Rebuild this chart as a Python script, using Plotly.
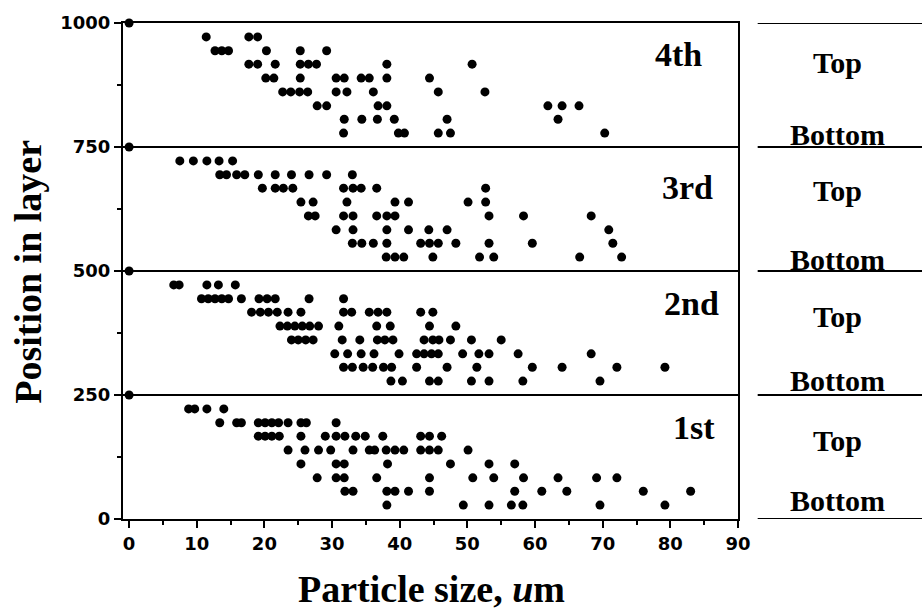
import plotly.graph_objects as go

# Particle sizes (um) observed at each sub-position of every layer.
# Each layer spans 250 units of "position"; rows are listed top to bottom.
layer4_rows = [972, 944, 917, 889, 861, 833, 806, 778]
layer4_sizes = [
    [11.4, 17.7, 19.0],
    [12.7, 13.7, 14.7, 20.3, 25.3, 29.2],
    [17.7, 19.0, 21.6, 25.3, 26.5, 27.7, 38.1, 50.7],
    [20.2, 21.4, 25.3, 30.6, 31.8, 34.3, 35.5, 38.1, 44.4],
    [22.7, 23.9, 25.2, 26.4, 30.6, 32.2, 36.1, 45.7, 52.6],
    [27.8, 29.2, 36.8, 38.1, 61.9, 64.0, 66.5],
    [31.8, 34.4, 36.7, 39.2, 47.0, 63.4],
    [31.7, 39.8, 40.7, 45.7, 47.5, 70.3],
]

layer3_rows = [722, 694, 667, 639, 611, 583, 556, 528]
layer3_sizes = [
    [7.5, 9.5, 11.5, 13.3, 15.3],
    [13.4, 14.4, 15.9, 17.1, 19.1, 21.6, 24.0, 26.6, 29.2, 33.0],
    [19.7, 21.6, 22.8, 24.2, 31.7, 33.1, 34.3, 36.6, 52.7],
    [25.4, 27.2, 32.2, 39.3, 41.3, 50.1, 52.7],
    [26.5, 27.5, 31.7, 33.1, 36.6, 38.1, 39.3, 53.2, 58.3, 68.3],
    [30.6, 33.1, 38.1, 41.3, 44.3, 47.0, 70.9],
    [33.0, 34.4, 36.1, 38.1, 43.1, 44.4, 45.7, 48.3, 53.2, 59.6, 71.5],
    [38.0, 39.3, 40.6, 44.9, 51.8, 53.9, 66.6, 72.8],
]

layer2_rows = [472, 444, 417, 389, 361, 333, 306, 278]
layer2_sizes = [
    [6.6, 7.4, 11.5, 13.2, 15.7],
    [10.7, 11.7, 12.7, 13.7, 14.7, 16.6, 19.2, 20.4, 21.6, 26.6, 31.7],
    [18.1, 19.4, 20.6, 21.9, 23.5, 25.4, 31.7, 32.9, 35.5, 36.8, 38.1, 43.1, 44.9],
    [22.3, 23.4, 24.5, 25.6, 26.7, 28.0, 31.0, 36.6, 38.6, 44.4, 48.3],
    [24.0, 25.0, 26.1, 27.2, 31.5, 34.1, 36.7, 37.8, 39.0, 43.6, 44.9, 45.8, 47.5, 50.6, 55.0],
    [30.4, 32.3, 34.3, 36.2, 39.9, 42.5, 43.6, 44.7, 45.7, 49.3, 51.7, 53.2, 57.5, 68.3],
    [31.7, 33.0, 34.6, 36.0, 37.6, 38.8, 42.5, 47.0, 51.4, 59.6, 64.0, 72.1, 79.2],
    [38.7, 40.4, 44.4, 45.7, 50.6, 53.2, 58.2, 69.6],
]

layer1_rows = [222, 194, 167, 139, 111, 83, 56, 28]
layer1_sizes = [
    [8.8, 9.7, 11.5, 14.0],
    [13.4, 15.9, 16.6, 19.1, 20.1, 21.1, 22.1, 23.5, 25.4, 26.2, 30.6],
    [19.1, 20.1, 21.1, 22.2, 25.4, 29.0, 30.6, 31.9, 33.5, 34.9, 37.5, 43.1, 44.4, 46.2],
    [23.5, 26.0, 28.0, 29.8, 33.1, 35.5, 36.3, 38.0, 39.3, 40.6, 43.1, 44.4, 45.7, 50.1],
    [25.4, 30.6, 31.8, 38.2, 47.5, 53.2, 57.0],
    [27.8, 30.6, 31.8, 36.6, 44.4, 50.8, 53.9, 58.3, 63.4, 69.1, 72.1],
    [31.9, 33.1, 38.1, 39.3, 41.3, 44.4, 57.0, 61.0, 64.7, 76.0, 83.0],
    [38.1, 49.4, 53.2, 56.5, 58.2, 69.6, 79.2],
]

# Markers sitting on the axis at each layer boundary
boundary_x = [0, 0, 0, 0]
boundary_y = [1000, 750, 500, 250]

layer_names = ["4th", "3rd", "2nd", "1st"]
layer_label_x = [81.2, 82.5, 83.2, 83.5]
layer_label_y = [936, 668, 435, 185]

layer_bounds = [0, 250, 500, 750, 1000]
top_label_y = [920, 663, 409, 158]
bottom_label_y = [776, 523, 279, 38]

x_ticks = list(range(0, 91, 10))
y_ticks = [0, 250, 500, 750, 1000]

xs, ys = [], []
for rows, sizes in [(layer4_rows, layer4_sizes), (layer3_rows, layer3_sizes),
                    (layer2_rows, layer2_sizes), (layer1_rows, layer1_sizes)]:
    for pos, vals in zip(rows, sizes):
        for v in vals:
            xs.append(v)
            ys.append(pos)
xs += boundary_x
ys += boundary_y

fig = go.Figure()
fig.add_trace(go.Scatter(
    x=xs, y=ys, mode="markers",
    marker=dict(color="black", size=9, line=dict(width=0)),
    cliponaxis=False, showlegend=False, hoverinfo="skip",
))

serif = "Liberation Serif, Times New Roman, serif"
sans = "DejaVu Sans, Arial, sans-serif"

shapes = []
# separators between layers inside the plot
for b in layer_bounds[1:-1]:
    shapes.append(dict(type="line", xref="paper", yref="y", x0=0, x1=1, y0=b, y1=b,
                       line=dict(color="black", width=2)))
# side scale of top / bottom markers
for b in layer_bounds:
    shapes.append(dict(type="line", xref="paper", yref="y", x0=1.032, x1=1.30, y0=b, y1=b,
                       line=dict(color="black", width=2)))

annotations = []
for name, lx, ly in zip(layer_names, layer_label_x, layer_label_y):
    annotations.append(dict(x=lx, y=ly, xref="x", yref="y", text=f"<b>{name}</b>",
                            xanchor="center", yanchor="middle", showarrow=False,
                            font=dict(family=serif, size=34, color="black")))
for ty in top_label_y:
    annotations.append(dict(x=1.161, y=ty, xref="paper", yref="y", text="<b>Top</b>",
                            xanchor="center", yanchor="middle", showarrow=False,
                            font=dict(family=serif, size=30, color="black")))
for by in bottom_label_y:
    annotations.append(dict(x=1.161, y=by, xref="paper", yref="y", text="<b>Bottom</b>",
                            xanchor="center", yanchor="middle", showarrow=False,
                            font=dict(family=serif, size=30, color="black")))
annotations.append(dict(x=0.501, y=-0.142, xref="paper", yref="paper",
                        text="<b>Particle size, <i>u</i>m</b>", showarrow=False,
                        xanchor="center", yanchor="middle",
                        font=dict(family=serif, size=38, color="black")))
annotations.append(dict(x=-0.154, y=0.499, xref="paper", yref="paper",
                        text="<b>Position in layer</b>", showarrow=False, textangle=-90,
                        xanchor="center", yanchor="middle",
                        font=dict(family=serif, size=38, color="black")))

tick_font = dict(family=sans, size=18, color="black")

fig.update_layout(
    width=922, height=614,
    margin=dict(l=123, r=184, t=20, b=95),
    paper_bgcolor="white", plot_bgcolor="white",
    shapes=shapes, annotations=annotations,
    xaxis=dict(range=[-0.9, 90], tickvals=x_ticks,
               ticktext=[f"<b>{t}</b>" for t in x_ticks],
               showgrid=False, zeroline=False, showline=True, linecolor="black", linewidth=2,
               mirror=True, ticks="outside", ticklen=7, tickwidth=2, tickcolor="black",
               minor=dict(dtick=5, tick0=0, ticks="outside", ticklen=4, tickwidth=2,
                          tickcolor="black", showgrid=False),
               tickfont=tick_font),
    yaxis=dict(range=[0, 1000], tickvals=y_ticks,
               ticktext=[f"<b>{t}</b>" for t in y_ticks],
               showgrid=False, zeroline=False, showline=True, linecolor="black", linewidth=2,
               mirror=True, ticks="outside", ticklen=7, tickwidth=2, tickcolor="black",
               minor=dict(dtick=125, tick0=0, ticks="outside", ticklen=4, tickwidth=2,
                          tickcolor="black", showgrid=False),
               tickfont=tick_font),
)

fig.write_html("out.html")
